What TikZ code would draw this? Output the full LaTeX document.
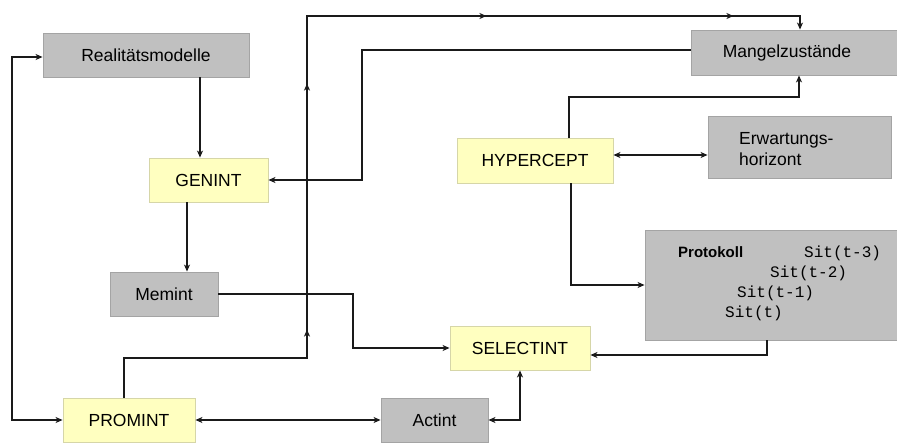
\documentclass[tikz,border=0pt]{standalone}
\usepackage{fontspec}
\setmainfont{Liberation Sans}
\newfontfamily\monof{Liberation Mono}
\usetikzlibrary{arrows.meta,decorations.markings}
\definecolor{boxgray}{HTML}{C0C0C0}
\definecolor{grayedge}{HTML}{A4A4A4}
\definecolor{boxyellow}{HTML}{FFFFC0}
\definecolor{yellowedge}{HTML}{D6D6A8}
\definecolor{linec}{HTML}{1A1A1A}
\begin{document}
\begin{tikzpicture}[x=1pt,y=-1pt,
  tip/.tip={Stealth[length=7pt,width=6pt,inset=2pt]},
  basebox/.style={line width=0.9pt, inner sep=0pt, text=black, font=\fontsize{17.5}{21}\selectfont},
  graybox/.style={basebox, draw=grayedge, fill=boxgray},
  yelbox/.style={basebox, draw=yellowedge, fill=boxyellow},
  conn/.style={draw=linec, line width=1.1pt},
  arr/.style={conn, -tip},
  darr/.style={conn, tip-tip},
  lbl/.style={inner sep=0pt, text=black, font=\fontsize{17.5}{21}\selectfont},
  monot/.style={inner sep=0pt, text=black, font=\monof\fontsize{16}{18}\selectfont},
]
\useasboundingbox (0,0) rectangle (897,442);

% boxes
\node[graybox, minimum width=206pt, minimum height=44pt] (real) at (146,55) {Realit\"atsmodelle};
\node[yelbox, minimum width=119pt, minimum height=44pt] (genint) at (208.5,180) {GENINT};
\node[graybox, minimum width=108pt, minimum height=44pt] (memint) at (164,294) {Memint};
\node[yelbox, minimum width=132pt, minimum height=44pt] (promint) at (129,420) {PROMINT};
\node[graybox, minimum width=107pt, minimum height=44pt] (actint) at (434.5,420) {Actint};
\node[yelbox, minimum width=140pt, minimum height=44pt] (selectint) at (520,348) {SELECTINT};
\node[graybox, minimum width=256pt, minimum height=110pt] (protokoll) at (773,285) {};
\node[graybox, minimum width=216pt, minimum height=45pt] (mangel) at (799,52.5) {};
\node[yelbox, minimum width=156pt, minimum height=45pt] (hyper) at (535,160.5) {HYPERCEPT};
\node[graybox, minimum width=183pt, minimum height=62pt] (erw) at (799.5,147) {};

% texts placed separately
\node[lbl] (mangeltext) at (787,52.5) {Mangelzust\"ande};
\node[lbl, anchor=west, align=left] (erwtext) at (739,149) {Erwartungs-\\horizont};
\node[lbl, anchor=west, font=\bfseries\fontsize{15}{18}\selectfont] (prottext) at (678,252) {Protokoll};
\node[monot, anchor=west] (s3) at (804,253) {Sit(t-3)};
\node[monot, anchor=west] (s2) at (770,273) {Sit(t-2)};
\node[monot, anchor=west] (s1) at (737,293) {Sit(t-1)};
\node[monot, anchor=west] (s0) at (725,313) {Sit(t)};

% helper coordinates
\coordinate (lx) at (12,240);
\coordinate (gx) at (362,100);
\coordinate (mx) at (353,300);
\coordinate (hy) at (700,97);
\coordinate (p1) at (307,358);
\coordinate (p2) at (307,16);

% connectors
\draw[arr] ([xshift=54pt]real.south) -- ([xshift=54pt]real.south |- genint.north);
\draw[arr] ([xshift=23pt]memint.north |- genint.south) -- ([xshift=23pt]memint.north);
\draw[darr] ([yshift=-2pt]real.west) -| (lx) |- (promint.west);
\draw[darr] (promint.east) -- (actint.west);
\draw[darr] (actint.east) -| (selectint.south);
\draw[arr] (memint.east) -| (mx |- selectint.west) -- (selectint.west);
\draw[arr] ([xshift=-6pt]protokoll.south) |- ([yshift=-7pt]selectint.east);
\draw[arr] ([xshift=36pt]hyper.south) |- (protokoll.west);
\draw[darr] ([yshift=5.5pt]hyper.east) -- ([yshift=5.5pt]hyper.east -| erw.west);
\draw[arr] ([xshift=34pt]hyper.north) |- (hy) -| (mangel.south);
\draw[arr] ([yshift=2.5pt]mangel.west) -| (gx) |- (genint.east);
\draw[arr, postaction={decorate, decoration={markings,
    mark=at position 251pt with {\arrow{tip}},
    mark=at position 497pt with {\arrow{tip}},
    mark=at position 744pt with {\arrow{tip}},
    mark=at position 991pt with {\arrow{tip}}}}]
  ([xshift=-5pt]promint.north) |- (p1) -- (p2) -| ([xshift=1pt]mangel.north);
\end{tikzpicture}
\end{document}
